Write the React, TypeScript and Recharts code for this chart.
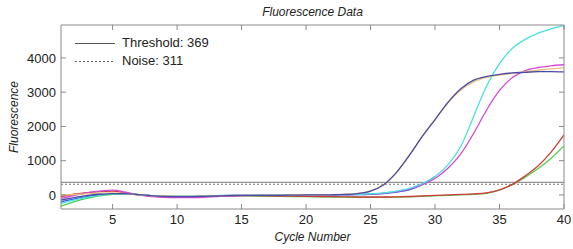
import React from 'react';
import { LineChart, Line, XAxis, YAxis, ReferenceLine } from 'recharts';

const cycles = [1,2,3,4,5,6,7,8,9,10,11,12,13,14,15,16,17,18,19,20,21,22,23,24,25,26,27,28,29,30,31,32,33,34,35,36,37,38,39,40];

const navy = [-150,-80,-20,20,40,40,10,-20,-40,-50,-50,-40,-30,-20,-10,-10,-10,-10,-5,0,0,5,15,40,110,290,650,1150,1700,2200,2700,3100,3350,3460,3520,3560,3580,3600,3600,3590];
const orange = [0,10,30,50,60,40,10,-20,-30,-40,-40,-35,-25,-15,-10,-10,-5,-5,0,0,5,10,20,45,120,300,660,1160,1700,2190,2680,3060,3300,3430,3500,3550,3600,3640,3680,3710];
const royal = [-200,-120,-50,0,30,30,10,-20,-30,-40,-40,-30,-20,-15,-10,-10,-5,0,0,0,0,0,5,10,20,40,80,150,300,540,null,null,null,null,null,null,null,null,null,null];
const cyan = [-250,-150,-70,-10,30,30,10,-20,-30,-40,-40,-30,-20,-15,-10,-10,-5,0,0,0,0,5,10,20,35,60,110,190,330,540,880,1420,2300,3180,3830,4280,4540,4720,4850,4950];
const magenta = [-100,-20,60,110,140,80,0,-50,-70,-80,-80,-70,-50,-30,-20,-10,-10,-5,0,0,0,0,5,15,30,55,100,170,300,480,780,1200,1800,2480,3050,3430,3630,3720,3770,3800];
const red = [-50,20,70,100,110,60,0,-30,-40,-50,-50,-40,-30,-20,-20,-20,-25,-30,-35,-40,-45,-50,-55,-60,-60,-60,-55,-45,-30,-15,0,15,30,60,150,310,560,850,1250,1750];
const green = [-330,-200,-100,-30,20,30,10,-20,-30,-40,-40,-35,-30,-25,-25,-30,-35,-40,-45,-50,-55,-60,-65,-70,-70,-70,-65,-55,-40,-25,-10,5,20,50,140,300,520,770,1070,1430];

const xTicks = [5, 10, 15, 20, 25, 30, 35, 40];
const yTicks = [0, 1000, 2000, 3000, 4000];
const threshold = 369;
const noise = 311;

const rows = cycles.map((c, i) => ({
  cycle: c,
  navy: navy[i],
  orange: orange[i],
  royal: royal[i],
  cyan: cyan[i],
  magenta: magenta[i],
  red: red[i],
  green: green[i],
}));

const series = [
  { key: 'royal', color: '#3a5ae0' },
  { key: 'green', color: '#4ccf4c' },
  { key: 'red', color: '#d23c3c' },
  { key: 'magenta', color: '#d448d4' },
  { key: 'cyan', color: '#48e0e0' },
  { key: 'orange', color: '#e8c27a' },
  { key: 'navy', color: '#4a4aa8' },
];

const FONT = '"Liberation Sans", Arial, Helvetica, sans-serif';
const axisColor = '#8a8a8a';
const EmptyTick = () => <g />;

const LegendBox = () => (
  <div style={{ position: 'absolute', left: 75, top: 35, width: 150, height: 40, fontFamily: FONT, fontSize: 13, color: '#222' }}>
    <svg width={45} height={40} style={{ position: 'absolute', left: 0, top: 0 }}>
      <line x1={0} x2={40} y1={8.5} y2={8.5} stroke="#555" strokeWidth={1} />
      <line x1={0} x2={40} y1={26.5} y2={26.5} stroke="#666" strokeWidth={1} strokeDasharray="2 2" />
    </svg>
    <div style={{ position: 'absolute', left: 47, top: 0, lineHeight: '16px', whiteSpace: 'nowrap' }}>Threshold: {threshold}</div>
    <div style={{ position: 'absolute', left: 47, top: 18, lineHeight: '16px', whiteSpace: 'nowrap' }}>Noise: {noise}</div>
  </div>
);

export default function App() {
  return (
    <div style={{ position: 'absolute', left: 0, top: 0, width: 573, height: 249, background: '#fff' }}>
      <LineChart width={573} height={249} data={rows} margin={{ top: 5, right: 0, bottom: 0, left: 0 }}>
        <XAxis xAxisId="b" dataKey="cycle" type="number" domain={[1, 40]} allowDataOverflow ticks={xTicks}
          orientation="bottom" height={40} tickSize={-5} tickMargin={11} stroke={axisColor}
          tick={{ fill: '#222', fontSize: 13, fontFamily: FONT }} />
        <XAxis xAxisId="t" dataKey="cycle" type="number" domain={[1, 40]} allowDataOverflow ticks={xTicks}
          orientation="top" height={20} tickSize={-5} stroke={axisColor} tick={EmptyTick} />
        <YAxis yAxisId="l" type="number" domain={[-410, 4960]} allowDataOverflow ticks={yTicks}
          orientation="left" width={61} tickSize={-5} tickMargin={10} stroke={axisColor}
          tick={{ fill: '#222', fontSize: 13, fontFamily: FONT }} />
        <YAxis yAxisId="r" type="number" domain={[-410, 4960]} allowDataOverflow ticks={yTicks}
          orientation="right" width={9} tickSize={-5} stroke={axisColor} tick={EmptyTick} />
        <ReferenceLine xAxisId="b" yAxisId="l" y={threshold} stroke="#777" strokeWidth={1} />
        <ReferenceLine xAxisId="b" yAxisId="l" y={noise} stroke="#777" strokeWidth={1} strokeDasharray="2 2" />
        {series.map((s) => (
          <Line key={s.key} xAxisId="b" yAxisId="l" dataKey={s.key} stroke={s.color} strokeWidth={1.3}
            dot={false} type="monotone" isAnimationActive={false} />
        ))}
      </LineChart>
      <LegendBox />
      <div style={{ position: 'absolute', left: 0, width: 625, top: 4, textAlign: 'center', fontFamily: FONT, fontSize: 12, fontStyle: 'italic', color: '#222', lineHeight: '16px' }}>Fluorescence Data</div>
      <div style={{ position: 'absolute', left: 0, width: 625, top: 229, textAlign: 'center', fontFamily: FONT, fontSize: 12, fontStyle: 'italic', color: '#222', lineHeight: '16px' }}>Cycle Number</div>
      <div style={{ position: 'absolute', left: 14 - 50, width: 100, top: 117 - 8, textAlign: 'center', fontFamily: FONT, fontSize: 12, fontStyle: 'italic', color: '#222', lineHeight: '16px', transform: 'rotate(-90deg)' }}>Fluorescence</div>
    </div>
  );
}
